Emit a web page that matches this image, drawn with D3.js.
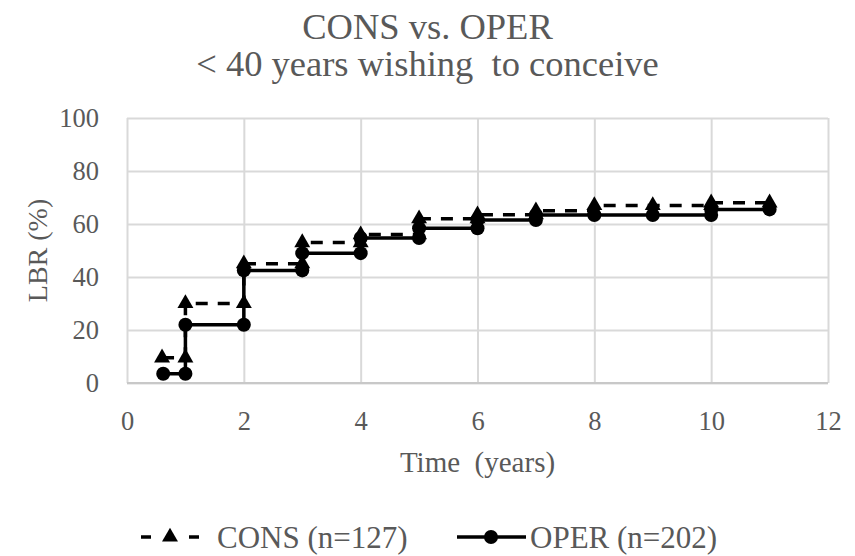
<!DOCTYPE html>
<html>
<head>
<meta charset="utf-8">
<script src="https://cdn.jsdelivr.net/npm/d3@7"></script>
<style>
  body { margin: 0; background: #fff; }
  text { font-family: 'Liberation Serif', 'DejaVu Serif', serif; fill: #595959; white-space: pre; }
</style>
</head>
<body>
<svg id="chart" width="855" height="556"></svg>
<script>
'use strict'

// data (time in years, LBR in %)
var consTime  = [0.6, 1, 1, 2, 2, 3, 3, 4, 4, 5, 5, 6, 6, 7, 7, 8, 8, 9, 10, 10, 11]
var consValue = [9.5, 9.5, 30, 30, 45, 45, 53, 53, 56, 56, 62, 62, 63.5, 63.5, 65, 65, 67, 67, 67, 68, 68]
var operTime  = [0.62, 1, 1, 2, 2, 3, 3, 4, 4, 5, 5, 6, 6, 7, 7, 8, 9, 10, 10, 11]
var operValue = [3.5, 3.5, 22, 22, 42.5, 42.5, 49, 49, 54.7, 54.7, 58.4, 58.4, 61.5, 61.5, 63.4, 63.4, 63.4, 63.4, 65.5, 65.5]
var xTicks = [0, 2, 4, 6, 8, 10, 12]
var yTicks = [0, 20, 40, 60, 80, 100]
var seriesNames = ['CONS (n=127)', 'OPER (n=202)']

var FONT = "'Liberation Serif', 'DejaVu Serif', serif"

var svg = d3.select('#chart')
var margin = {top: 118, right: 27, bottom: 173, left: 127}
var width = 855 - margin.left - margin.right,
    height = 556 - margin.top - margin.bottom

var x = d3.scaleLinear().domain([0, 12]).range([0, width])
var y = d3.scaleLinear().domain([0, 100]).range([height, 0])

// titles
svg.append('text')
  .attr('x', 427.5).attr('y', 39)
  .attr('text-anchor', 'middle')
  .style('font-size', '36.5px')
  .text('CONS vs. OPER')
svg.append('text')
  .attr('x', 427.5).attr('y', 76)
  .attr('text-anchor', 'middle')
  .style('font-size', '36.5px')
  .text('< 40 years wishing  to conceive')

var g = svg.append('g')
  .attr('transform', 'translate(' + margin.left + ',' + margin.top + ')')

// axes + gridlines
var gx = g.append('g')
  .attr('transform', 'translate(0,' + height + ')')
  .call(d3.axisBottom(x).tickValues(xTicks).tickSize(-height).tickPadding(28))
var gy = g.append('g')
  .call(d3.axisLeft(y).tickValues(yTicks).tickSize(-width).tickPadding(28))

gx.attr('font-family', FONT)
gy.attr('font-family', FONT)
gx.select('.domain').remove()
gy.select('.domain').remove()
g.selectAll('.tick line').attr('stroke', '#d9d9d9').attr('stroke-width', 2)
g.selectAll('.tick text')
  .style('font-size', '26.5px')
  .attr('fill', '#595959')

// bottom axis line a bit darker
g.append('line')
  .attr('x1', 0).attr('x2', width)
  .attr('y1', height).attr('y2', height)
  .attr('stroke', '#c8c8c8').attr('stroke-width', 2)

// axis titles
g.append('text')
  .attr('x', width / 2).attr('y', height + 89)
  .attr('text-anchor', 'middle')
  .style('font-size', '29px')
  .text('Time  (years)')
g.append('text')
  .attr('transform', 'translate(-90,' + (height / 2) + ') rotate(-90)')
  .attr('text-anchor', 'middle')
  .attr('dy', '0.35em')
  .style('font-size', '28px')
  .text('LBR (%)')

var consData = consTime.map((t, i) => ({t: t, v: consValue[i]}))
var operData = operTime.map((t, i) => ({t: t, v: operValue[i]}))

var line = d3.line().x(d => x(d.t)).y(d => y(d.v))

var triangle = d3.symbol().type(d3.symbolTriangle).size(110)

// CONS dashed with triangles
g.append('path')
  .datum(consData)
  .attr('d', line)
  .attr('fill', 'none')
  .attr('stroke', '#000')
  .attr('stroke-width', 3.5)
  .attr('stroke-dasharray', '12,10')

// OPER solid with circles
g.append('path')
  .datum(operData)
  .attr('d', line)
  .attr('fill', 'none')
  .attr('stroke', '#000')
  .attr('stroke-width', 3.5)

g.selectAll('.cons')
  .data(consData)
  .enter()
    .append('path')
    .attr('class', 'cons')
    .attr('d', triangle)
    .attr('transform', d => 'translate(' + x(d.t) + ',' + y(d.v) + ')')
    .attr('fill', '#000')

g.selectAll('.oper')
  .data(operData)
  .enter()
    .append('circle')
    .attr('class', 'oper')
    .attr('cx', d => x(d.t))
    .attr('cy', d => y(d.v))
    .attr('r', 7)
    .attr('fill', '#000')

// legend
var ly = 537
var leg = svg.append('g')

// dashed sample: two short dashes around the marker
leg.selectAll('.dash')
  .data([[141, 151], [189, 199]])
  .enter()
    .append('line')
    .attr('x1', d => d[0]).attr('x2', d => d[1])
    .attr('y1', ly).attr('y2', ly)
    .attr('stroke', '#000').attr('stroke-width', 3.5)
leg.append('path')
  .attr('d', triangle)
  .attr('transform', 'translate(170,' + ly + ')')
  .attr('fill', '#000')
leg.append('text')
  .attr('x', 217).attr('y', ly).attr('dy', '0.35em')
  .style('font-size', '31px')
  .text(seriesNames[0])

leg.append('line')
  .attr('x1', 457).attr('x2', 526).attr('y1', ly).attr('y2', ly)
  .attr('stroke', '#000').attr('stroke-width', 3.5)
leg.append('circle')
  .attr('cx', 491).attr('cy', ly).attr('r', 7)
  .attr('fill', '#000')
leg.append('text')
  .attr('x', 530).attr('y', ly).attr('dy', '0.35em')
  .style('font-size', '31px')
  .text(seriesNames[1])
</script>
</body>
</html>
